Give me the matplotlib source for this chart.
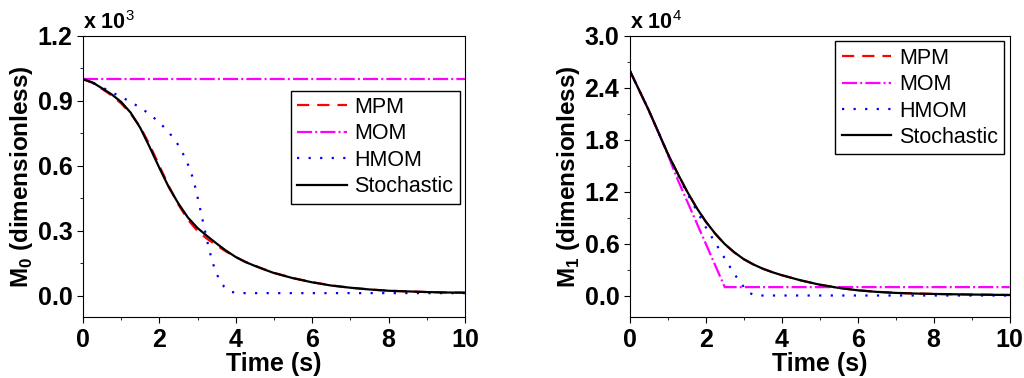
import matplotlib
matplotlib.use('Agg')
import matplotlib.pyplot as plt
from matplotlib.ticker import MultipleLocator

plt.rcParams['font.family'] = 'Liberation Sans'
plt.rcParams['mathtext.fontset'] = 'custom'
plt.rcParams['mathtext.rm'] = 'Liberation Sans'
plt.rcParams['mathtext.bf'] = 'Liberation Sans:bold'

# zeroth moment M0 (x 10^3)
t_m0 = [0, 0.25, 0.5, 0.75, 1, 1.25, 1.5, 1.75, 2, 2.25, 2.5, 2.75, 3, 3.25, 3.5,
        3.75, 4, 4.25, 4.5, 4.75, 5, 5.5, 6, 6.5, 7, 7.5, 8, 8.5, 9, 9.5, 10]
stoch_m0 = [1.0, 0.985, 0.958, 0.93, 0.895, 0.845, 0.775, 0.685, 0.59, 0.50, 0.425,
            0.36, 0.312, 0.275, 0.24, 0.207, 0.178, 0.155, 0.137, 0.12, 0.104, 0.08,
            0.061, 0.046, 0.036, 0.028, 0.022, 0.019, 0.016, 0.014, 0.013]
mpm_m0 = [1.0, 0.983, 0.955, 0.925, 0.888, 0.84, 0.78, 0.695, 0.60, 0.505, 0.42,
          0.35, 0.298, 0.262, 0.232, 0.203, 0.178, 0.156, 0.138, 0.121, 0.105, 0.081,
          0.062, 0.047, 0.036, 0.028, 0.022, 0.019, 0.016, 0.014, 0.013]
t_hmom0 = [0, 0.25, 0.5, 0.75, 1, 1.25, 1.5, 1.75, 2, 2.25, 2.5, 2.65, 2.8, 2.9, 3,
           3.1, 3.2, 3.3, 3.4, 3.5, 3.6, 3.7, 3.8, 3.9, 4.1, 10]
hmom_m0 = [1.0, 0.985, 0.962, 0.94, 0.918, 0.895, 0.868, 0.838, 0.80, 0.755, 0.695,
           0.645, 0.585, 0.53, 0.455, 0.375, 0.295, 0.215, 0.15, 0.10, 0.065, 0.04,
           0.025, 0.016, 0.011, 0.011]
t_mom0 = [0, 10]
mom_m0 = [1.0, 1.0]

# first moment M1 (x 10^4)
t_m1 = [0, 0.25, 0.5, 0.75, 1, 1.25, 1.5, 1.75, 2, 2.25, 2.5, 2.75, 3, 3.25, 3.5,
        3.75, 4, 4.5, 5, 5.5, 6, 6.5, 7, 7.5, 8, 9, 10]
stoch_m1 = [2.6, 2.37, 2.14, 1.89, 1.64, 1.42, 1.21, 1.02, 0.855, 0.715, 0.595, 0.50,
            0.42, 0.36, 0.31, 0.27, 0.235, 0.175, 0.125, 0.088, 0.06, 0.042, 0.03,
            0.023, 0.018, 0.011, 0.006]
mpm_m1 = [2.6, 2.37, 2.14, 1.89, 1.64, 1.42, 1.21, 1.02, 0.855, 0.713, 0.593, 0.498,
          0.42, 0.36, 0.31, 0.27, 0.235, 0.175, 0.126, 0.089, 0.061, 0.043, 0.031,
          0.023, 0.018, 0.011, 0.006]
t_mom1 = [0, 0.25, 0.5, 0.75, 1, 1.25, 1.5, 2, 2.5, 10]
mom_m1 = [2.6, 2.37, 2.14, 1.89, 1.63, 1.35, 1.10, 0.60, 0.097, 0.097]
t_hmom1 = [0, 0.5, 1, 1.25, 1.5, 1.75, 2, 2.25, 2.5, 2.75, 3, 3.15, 3.3, 10]
hmom_m1 = [2.6, 2.14, 1.64, 1.41, 1.19, 0.99, 0.79, 0.61, 0.43, 0.25, 0.10, 0.03,
           0.0, 0.0]

fig = plt.figure(figsize=(10.24, 3.78), dpi=100)
ax1 = fig.add_axes([0.081, 0.161, 0.373, 0.744])
ax2 = fig.add_axes([0.615, 0.161, 0.371, 0.744])


def draw(ax, mpm, mom, hmom, stoch):
    ax.plot(mpm[0], mpm[1], color='red', lw=1.6, ls=(0, (5.5, 3.6)), label='MPM')
    ax.plot(mom[0], mom[1], color='magenta', lw=1.6, ls=(0, (6.8, 1.4, 0.9, 1.4)), label='MOM')
    ax.plot(hmom[0], hmom[1], color='blue', lw=1.6, ls=(0, (1, 4.2)), label='HMOM')
    ax.plot(stoch[0], stoch[1], color='black', lw=1.6, label='Stochastic')
    ax.set_xlim(0, 10)
    ax.xaxis.set_major_locator(MultipleLocator(2))
    ax.xaxis.set_minor_locator(MultipleLocator(1))
    ax.tick_params(which='both', direction='out', top=False, right=False)
    ax.tick_params(which='major', length=4, labelsize=18)
    ax.tick_params(which='minor', length=2.5)
    for lab in ax.get_xticklabels():
        lab.set_fontweight('bold')
    ax.set_xlabel('Time (s)', fontsize=18, fontweight='bold', labelpad=0)
    leg = ax.legend(fontsize=15.5, handlelength=2.3, fancybox=False, framealpha=1,
                    edgecolor='black', borderpad=0.3, labelspacing=0.25,
                    handletextpad=0.35, borderaxespad=0.25, loc='upper right')
    leg.get_frame().set_linewidth(1.0)
    return leg


leg1 = draw(ax1, (t_m0, mpm_m0), (t_mom0, mom_m0), (t_hmom0, hmom_m0), (t_m0, stoch_m0))
leg1.set_bbox_to_anchor((1.0, 0.825))
ax1.set_ylim(-0.1, 1.2)
ax1.set_yticks([0.0, 0.3, 0.6, 0.9, 1.2])
ax1.set_yticklabels(['0.0', '0.3', '0.6', '0.9', '1.2'], fontweight='bold')
ax1.yaxis.set_minor_locator(MultipleLocator(0.15))
ax1.set_ylabel(r'M$_\mathbf{0}$ (dimensionless)', fontsize=17.5, fontweight='bold', labelpad=2)
ax1.text(0.0, 1.025, r'x 10$^3$', transform=ax1.transAxes, fontsize=15.5, fontweight='bold')

draw(ax2, (t_m1, mpm_m1), (t_mom1, mom_m1), (t_hmom1, hmom_m1), (t_m1, stoch_m1))
ax2.set_ylim(-0.25, 3.0)
ax2.set_yticks([0.0, 0.6, 1.2, 1.8, 2.4, 3.0])
ax2.set_yticklabels(['0.0', '0.6', '1.2', '1.8', '2.4', '3.0'], fontweight='bold')
ax2.yaxis.set_minor_locator(MultipleLocator(0.3))
ax2.set_ylabel(r'M$_\mathbf{1}$ (dimensionless)', fontsize=17.5, fontweight='bold', labelpad=2)
ax2.text(0.0, 1.025, r'x 10$^4$', transform=ax2.transAxes, fontsize=15.5, fontweight='bold')

plt.savefig('out.png', dpi=100)
